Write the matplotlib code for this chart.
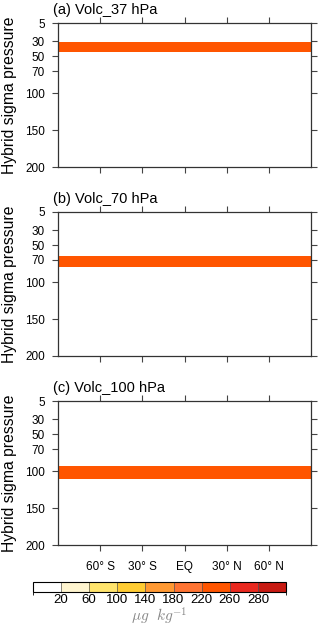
import numpy as np
import matplotlib
matplotlib.use('Agg')
import matplotlib.pyplot as plt
from matplotlib.colors import ListedColormap, BoundaryNorm

plt.rcParams['font.family'] = ['Liberation Sans', 'DejaVu Sans']
plt.rcParams['mathtext.fontset'] = 'cm'

# 数据
titles = ['(a) Volc_37 hPa', '(b) Volc_70 hPa', '(c) Volc_100 hPa']
lat_edges = [-90, 90]
# 注入层上下界 (hPa)
band_bottoms = [30.5, 64.0, 93.0]
band_tops = [44.5, 79.0, 110.0]
band_values = [240, 240, 240]
p_top, p_bot = 5, 200

yticks = [5, 30, 50, 70, 100, 150, 200]
xticks = [-60, -30, 0, 30, 60]
xticklabels = ['60° S', '30° S', 'EQ', '30° N', '60° N']

levels = [20, 60, 100, 140, 180, 220, 260, 280]
colors = ['#ffffff', '#fff5cf', '#ffe46c', '#ffcc33', '#ff9933',
          '#ff7433', '#ff5500', '#e9291f', '#c71a12']

cmap = ListedColormap(colors)
bounds = [0] + levels + [320]
norm = BoundaryNorm(bounds, cmap.N)

fig = plt.figure(figsize=(3.2, 6.26), dpi=100)
W, H = 320, 626
ax_left, ax_w, ax_h = 58, 253, 144
ax_tops = [23, 212, 401]

for i in range(3):
    ax = fig.add_axes([ax_left / W, 1 - (ax_tops[i] + ax_h) / H, ax_w / W, ax_h / H])
    p_edges = [p_top, band_bottoms[i], band_tops[i], p_bot]
    vals = np.array([[0], [band_values[i]], [0]])
    ax.pcolormesh(lat_edges, p_edges, vals, cmap=cmap, norm=norm)
    ax.set_xlim(-90, 90)
    ax.set_ylim(p_bot, p_top)
    ax.set_yticks(yticks)
    ax.set_yticklabels([str(v) for v in yticks], fontsize=8.5)
    ax.set_xticks(xticks)
    if i == 2:
        ax.set_xticklabels(xticklabels, fontsize=8.5)
    else:
        ax.set_xticklabels([])
    ax.tick_params(direction='out', length=4.3, width=0.8, color='#444444',
                   top=True, right=True, pad=5)
    ax.tick_params(axis='x', pad=7)
    for s in ax.spines.values():
        s.set_linewidth(0.9)
        s.set_color('#333333')
    ax.set_ylabel('Hybrid sigma pressure', fontsize=11.3, labelpad=6)
    ax.set_title(titles[i], loc='left', fontsize=10.5, pad=6.5, x=-0.02)

# 色标
cax = fig.add_axes([33 / W, 1 - 591.5 / H, 253 / W, 10 / H])
sm = matplotlib.cm.ScalarMappable(cmap=cmap, norm=norm)
cb = fig.colorbar(sm, cax=cax, orientation='horizontal', spacing='uniform',
                  ticks=levels, drawedges=True)
cb.outline.set_linewidth(0.8)
cb.dividers.set_linewidth(0.5)
cb.dividers.set_color('#555555')
cax.tick_params(length=0, labelsize=9.5, pad=1.5)
cb.set_label(r'$\mu g\ \ kg^{-1}$', fontsize=11, color='#888888', labelpad=0.5)

fig.savefig('out.png', dpi=100)
